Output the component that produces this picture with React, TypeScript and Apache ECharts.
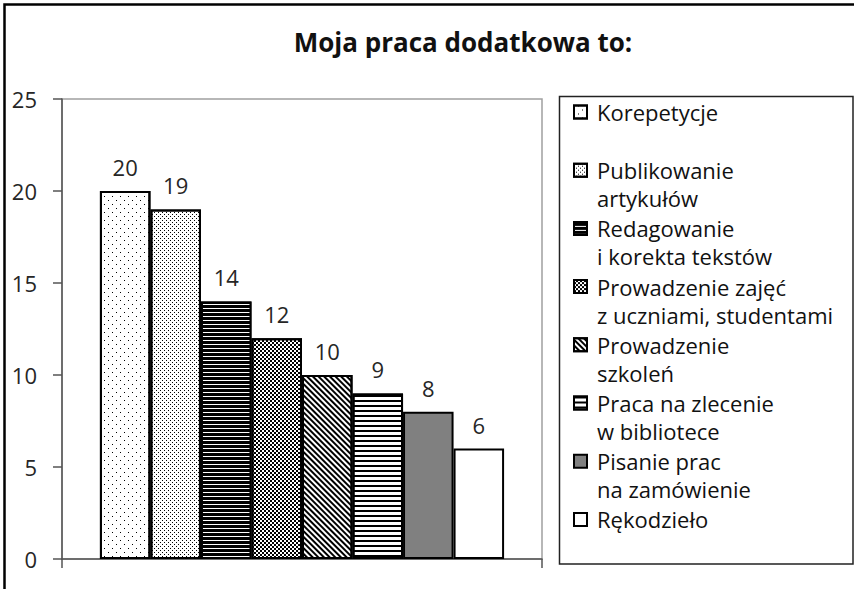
import React, { useEffect, useRef } from 'react';
import * as echarts from 'echarts';

const TITLE = 'Moja praca dodatkowa to:';

const categories = [
  'Korepetycje',
  'Publikowanie\nartykułów',
  'Redagowanie\ni korekta tekstów',
  'Prowadzenie zajęć\nz uczniami, studentami',
  'Prowadzenie\nszkoleń',
  'Praca na zlecenie\nw bibliotece',
  'Pisanie prac\nna zamówienie',
  'Rękodzieło',
];

const values = [20, 19, 14, 12, 10, 9, 8, 6];

const yTicks = { min: 0, max: 25, interval: 5 };

const FONT = '"Open Sans", "Noto Sans", sans-serif';

// Fill styles (background colour + optional decal pattern) for each series
const fills = ['#ffffff', '#ffffff', '#000000', '#ffffff', '#ffffff', '#ffffff', '#808080', '#ffffff'];
const decals: any[] = [
  { symbol: 'rect', symbolSize: 1, color: '#000', dashArrayX: [[1, 7], [0, 4, 1, 3]], dashArrayY: [1, 3] },
  { symbol: 'rect', symbolSize: 1, color: '#000', dashArrayX: [[1, 3], [0, 2, 1, 1]], dashArrayY: [1, 1] },
  { symbol: 'rect', symbolSize: 1, color: '#fff', dashArrayX: [1, 0], dashArrayY: [1, 3] },
  { symbol: 'rect', symbolSize: 1, color: '#000', dashArrayX: [[1.5, 1.5], [0, 1.5, 1.5, 0]], dashArrayY: [1.5, 0] },
  { symbol: 'rect', symbolSize: 1, color: '#000', dashArrayX: [1, 0], dashArrayY: [1.2, 1.8], rotation: Math.PI / 4 },
  { symbol: 'rect', symbolSize: 1, color: '#000', dashArrayX: [1, 0], dashArrayY: [1.4, 2.6] },
  null,
  null,
];

export default function App() {
  const ref = useRef<HTMLDivElement>(null);
  useEffect(() => {
    if (!ref.current) return;
    const chart = echarts.init(ref.current, null, { renderer: 'svg' });
    chart.setOption({
      animation: false,
      backgroundColor: '#ffffff',
      title: {
        text: TITLE,
        left: 458,
        top: 24,
        textAlign: 'center',
        textStyle: { fontFamily: FONT, fontSize: 26, fontWeight: 'bold', color: '#111' },
      },
      grid: {
        left: 62,
        top: 99,
        width: 480,
        height: 460,
        show: true,
        borderColor: '#a0a0a0',
        borderWidth: 1.5,
        backgroundColor: 'transparent',
      },
      legend: {
        orient: 'vertical',
        left: 573,
        top: 70,
        padding: 0,
        itemWidth: 13,
        itemHeight: 13,
        itemGap: -25.8,
        icon: 'rect',
        selectedMode: false,
        formatter: (n: string) => '\u00a0\n' + (n.indexOf('\n') >= 0 ? n : n + '\n\u00a0'),
        textStyle: {
          fontFamily: FONT,
          fontSize: 22,
          color: '#111',
          lineHeight: 28,
          padding: [0, 0, 0, 5],
        },
      },
      xAxis: {
        type: 'category',
        data: [''],
        axisLine: { show: true, lineStyle: { color: '#555', width: 1.5 } },
        axisTick: { show: true, length: 9, lineStyle: { color: '#555', width: 1.5 } },
        axisLabel: { show: false },
        splitLine: { show: false },
      },
      yAxis: {
        type: 'value',
        min: yTicks.min,
        max: yTicks.max,
        interval: yTicks.interval,
        axisLine: { show: true, lineStyle: { color: '#555', width: 1.5 } },
        axisTick: { show: true, length: 9, lineStyle: { color: '#555', width: 1.5 } },
        axisLabel: { fontFamily: FONT, fontSize: 22, color: '#262626', margin: 25 },
        splitLine: { show: false },
      },
      graphic: [
        {
          type: 'rect',
          silent: true,
          z: -1,
          shape: { x: 4.5, y: 4.5, width: 900, height: 700 },
          style: { fill: 'none', stroke: '#000', lineWidth: 2.5 },
        },
        {
          type: 'rect',
          silent: true,
          z: -1,
          shape: { x: 559.5, y: 96.5, width: 293.5, height: 467.5 },
          style: { fill: 'none', stroke: '#222', lineWidth: 1.5 },
        },
      ],
      series: categories.map((name, i) => ({
        type: 'bar',
        name,
        data: [values[i]],
        barGap: '0%',
        barCategoryGap: '15.8%',
        itemStyle: {
          color: fills[i],
          borderColor: '#000',
          borderWidth: 2,
          decal: decals[i] || undefined,
        },
        label: {
          show: true,
          position: 'top',
          distance: 13,
          fontFamily: FONT,
          fontSize: 22,
          color: '#262626',
        },
      })),
    });
    return () => chart.dispose();
  }, []);
  return (
    <div
      ref={ref}
      style={{ position: 'absolute', left: 0, top: 0, width: 854, height: 589, background: '#fff' }}
    />
  );
}
